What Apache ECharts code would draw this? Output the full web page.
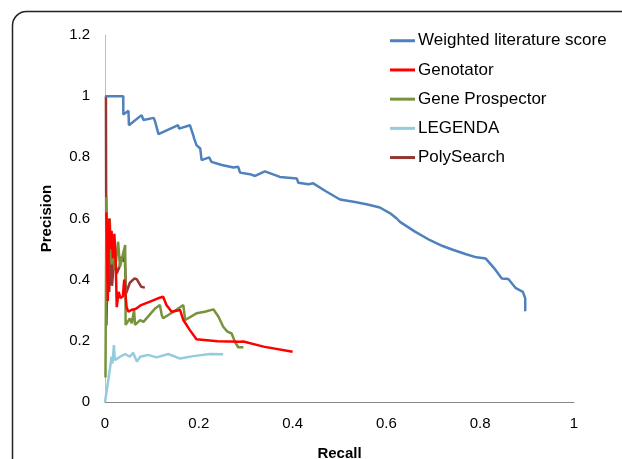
<!DOCTYPE html>
<html>
<head>
<meta charset="utf-8">
<script src="https://cdn.jsdelivr.net/npm/echarts@6/dist/echarts.min.js"></script>
<style>
html,body{margin:0;padding:0;background:#fff;}
#chart{width:622px;height:459px;}
</style>
</head>
<body>
<div id="chart"></div>
<script>
var seriesNames = ["Weighted literature score", "Genotator", "Gene Prospector", "LEGENDA", "PolySearch"];
var xTicks = [0, 0.2, 0.4, 0.6, 0.8, 1];
var yTicks = [0, 0.2, 0.4, 0.6, 0.8, 1, 1.2];

var weighted = [
  [0,1.0],[0.039,1.0],[0.039,0.940],[0.050,0.952],[0.051,0.905],[0.078,0.938],[0.082,0.922],
  [0.104,0.929],[0.107,0.916],[0.114,0.876],[0.156,0.905],[0.158,0.894],[0.181,0.905],
  [0.188,0.873],[0.190,0.862],[0.195,0.840],[0.203,0.829],[0.206,0.791],[0.222,0.800],
  [0.227,0.785],[0.249,0.775],[0.274,0.767],[0.284,0.769],[0.288,0.750],[0.309,0.745],
  [0.320,0.739],[0.341,0.754],[0.373,0.736],[0.409,0.731],[0.412,0.717],[0.434,0.712],
  [0.444,0.715],[0.470,0.690],[0.501,0.662],[0.533,0.654],[0.560,0.646],[0.586,0.636],
  [0.610,0.615],[0.622,0.600],[0.629,0.589],[0.660,0.558],[0.693,0.529],[0.720,0.510],
  [0.743,0.497],[0.770,0.483],[0.792,0.473],[0.812,0.469],[0.830,0.437],[0.846,0.404],
  [0.860,0.402],[0.876,0.372],[0.891,0.360],[0.896,0.339],[0.896,0.297]
];
var genotator = [
  [0.003,0.62],[0.006,0.33],[0.009,0.60],[0.012,0.50],[0.014,0.56],[0.017,0.47],
  [0.020,0.55],[0.023,0.45],[0.025,0.31],[0.029,0.36],[0.033,0.34],[0.038,0.345],
  [0.041,0.40],[0.046,0.31],[0.050,0.295],[0.056,0.301],[0.066,0.305],[0.077,0.317],
  [0.096,0.328],[0.113,0.339],[0.124,0.344],[0.131,0.317],[0.142,0.295],[0.160,0.301],
  [0.167,0.268],[0.181,0.235],[0.195,0.205],[0.240,0.199],[0.288,0.197],[0.295,0.198],
  [0.338,0.181],[0.400,0.164]
];
var geneProspector = [
  [0.001,0.08],[0.003,0.67],[0.006,0.40],[0.010,0.60],[0.014,0.45],[0.018,0.52],
  [0.021,0.43],[0.028,0.524],[0.032,0.442],[0.043,0.513],[0.044,0.252],[0.053,0.273],
  [0.057,0.257],[0.062,0.301],[0.064,0.252],[0.075,0.268],[0.082,0.262],[0.107,0.306],
  [0.110,0.301],[0.117,0.317],[0.121,0.284],[0.124,0.274],[0.146,0.295],[0.167,0.317],
  [0.171,0.268],[0.195,0.290],[0.213,0.295],[0.231,0.303],[0.242,0.279],[0.252,0.246],
  [0.261,0.230],[0.270,0.224],[0.277,0.197],[0.284,0.179],[0.295,0.179]
];
var legenda = [
  [0,0],[0.004,0.04],[0.007,0.072],[0.011,0.115],[0.014,0.148],[0.016,0.126],
  [0.019,0.186],[0.021,0.137],[0.032,0.148],[0.043,0.157],[0.053,0.148],[0.060,0.161],
  [0.068,0.132],[0.075,0.148],[0.092,0.154],[0.110,0.146],[0.135,0.157],[0.160,0.142],
  [0.188,0.150],[0.224,0.157],[0.252,0.156]
];
var polySearch = [
  [0.002,1.0],[0.003,0.25],[0.006,0.50],[0.009,0.36],[0.012,0.52],[0.015,0.38],
  [0.020,0.48],[0.025,0.42],[0.031,0.442],[0.035,0.475],[0.040,0.46],[0.042,0.480],
  [0.045,0.355],[0.053,0.390],[0.063,0.404],[0.068,0.401],[0.077,0.377],[0.085,0.374]
];

var colors = ["#4F81BD", "#FF0000", "#77933C", "#93CDDD", "#953735"];
var datasets = [weighted, genotator, geneProspector, legenda, polySearch];

var chart = echarts.init(document.getElementById('chart'), null, {renderer: 'canvas'});
var fontFam = '"Liberation Sans", Arial, sans-serif';
chart.setOption({
  animation: false,
  backgroundColor: '#fff',
  color: colors,
  graphic: [{
    type: 'rect',
    shape: {x: 12.5, y: 11.5, width: 700, height: 600, r: 14},
    style: {fill: 'none', stroke: '#222', lineWidth: 1.5},
    silent: true
  }],
  grid: {left: 105, top: 35, right: 48, bottom: 57, containLabel: false, outerBoundsMode: 'none'},
  legend: {
    orient: 'vertical',
    left: 390,
    top: 31,
    padding: 0,
    icon: 'rect',
    itemWidth: 25,
    itemHeight: 3,
    itemGap: 9.7,
    textStyle: {fontFamily: fontFam, fontSize: 17, color: '#000', padding: [0,0,0,-2], lineHeight: 19.5},
    data: seriesNames
  },
  xAxis: {
    type: 'value', min: 0, max: 1, interval: 0.2,
    name: 'Recall', nameLocation: 'middle', nameGap: 44,
    nameTextStyle: {fontFamily: fontFam, fontSize: 15, fontWeight: 'bold', color: '#000'},
    axisLine: {show: true, lineStyle: {color: '#868686', width: 1}},
    axisTick: {show: false},
    splitLine: {show: false},
    axisLabel: {fontFamily: fontFam, fontSize: 15, color: '#000', margin: 14,
      formatter: function (v) { return String(+v.toFixed(1)); }}
  },
  yAxis: {
    type: 'value', min: 0, max: 1.2, interval: 0.2,
    name: 'Precision', nameLocation: 'middle', nameGap: 51,
    nameTextStyle: {fontFamily: fontFam, fontSize: 15, fontWeight: 'bold', color: '#000'},
    axisLine: {show: true, lineStyle: {color: '#BFBFBF', width: 1}},
    axisTick: {show: false},
    splitLine: {show: false},
    axisLabel: {fontFamily: fontFam, fontSize: 15, color: '#000', margin: 15,
      formatter: function (v) { return String(+v.toFixed(1)); }}
  },
  series: seriesNames.map(function (n, i) {
    return {
      name: n, type: 'line', data: datasets[i],
      symbol: 'none', showSymbol: false,
      lineStyle: {width: 2.5, color: colors[i]},
      itemStyle: {color: colors[i]},
      z: 10 - i
    };
  })
});
</script>
</body>
</html>
